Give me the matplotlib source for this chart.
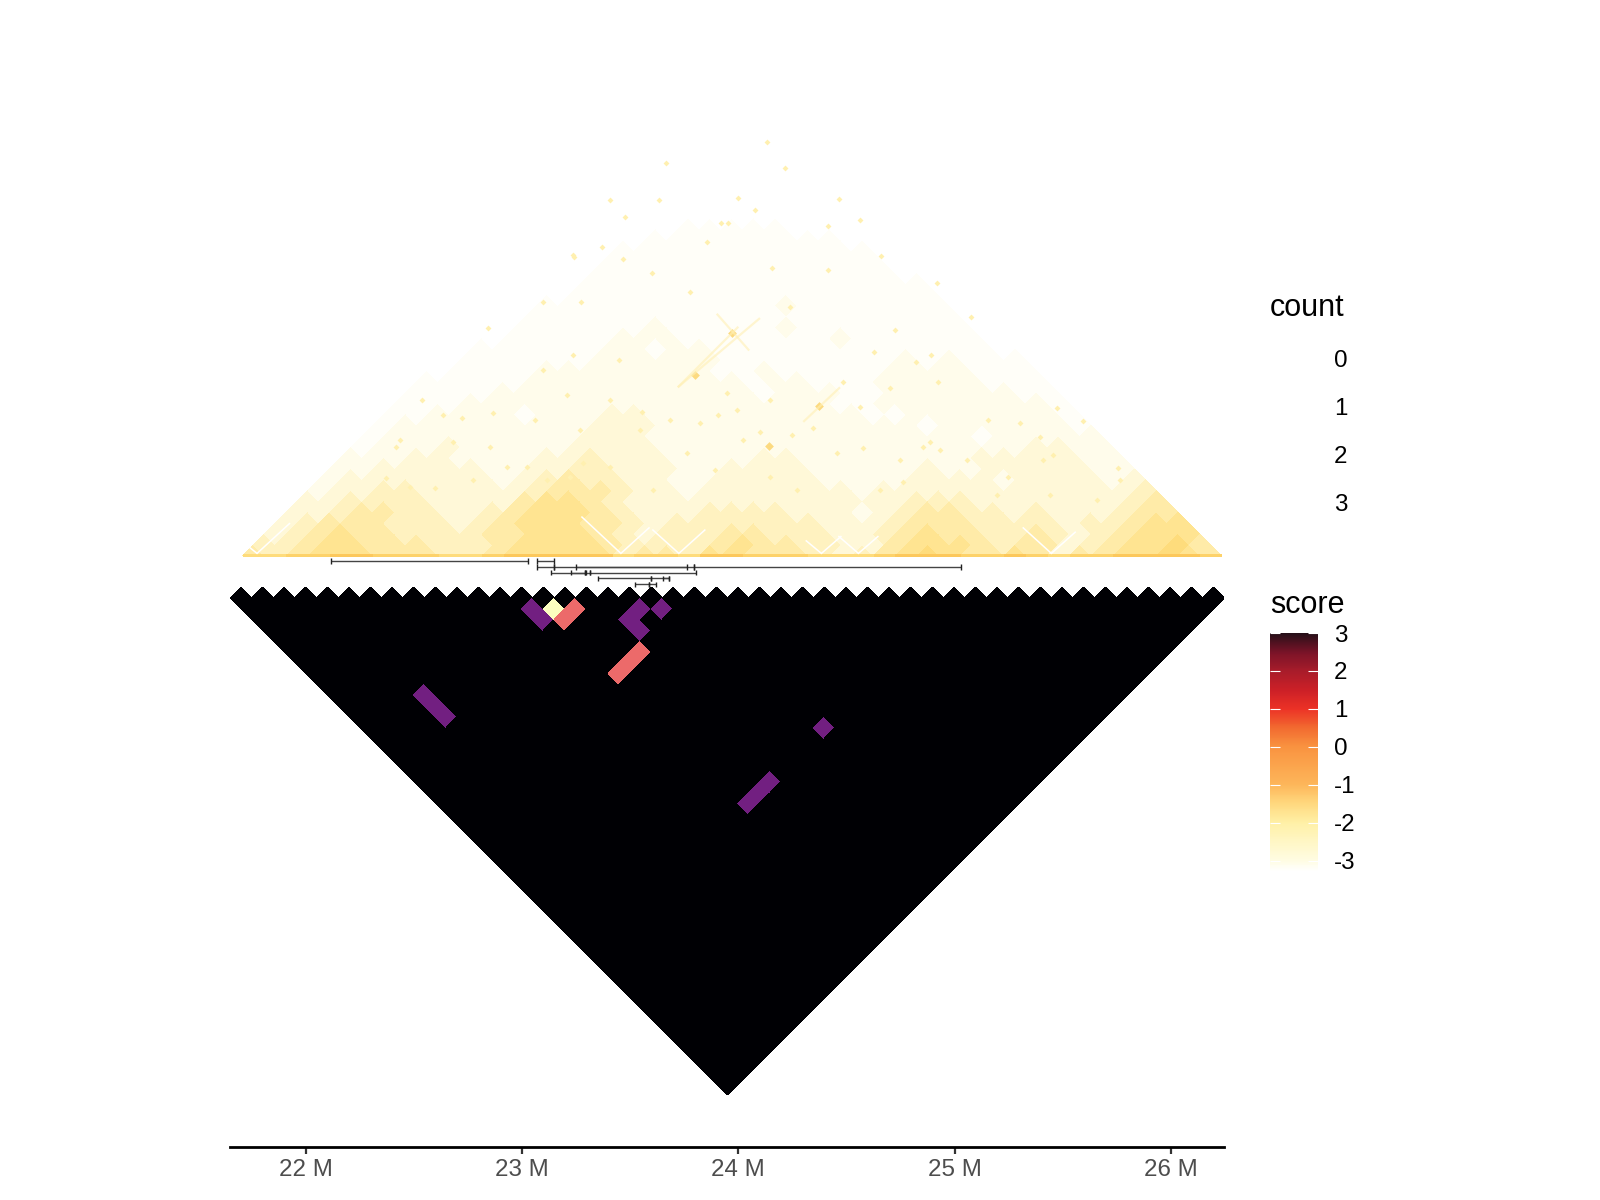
import numpy as np
import matplotlib
matplotlib.use('Agg')
import matplotlib.pyplot as plt
from matplotlib.colors import LinearSegmentedColormap, ListedColormap, Normalize
from matplotlib.cm import ScalarMappable
from matplotlib.patches import Rectangle

plt.rcParams['font.family'] = ['Liberation Sans', 'DejaVu Sans']

# count heatmap, estimated mean intensity (0-9) in 100 kb bins, one string per distance
count_rows = [
    "545666555445666664554665554345676556535566765",
    "44566555444566665444456554433566654553456675",
    "3456554444556665434445544433456554454345666",
    "345554443456665543444444433345554444344566",
    "33455443345666543334444333234554434333455",
    "3344443333566543333333333333444333333345",
    "233443333345554332333333323333333333334",
    "23333333234544332233333222233332333323",
    "2233333223344333223333222223223333322",
    "222332222334333222233222222223333322",
    "12223222223333222222222222222223322",
    "1222222222333222222222222222122222",
    "122222222233322222222222212222221",
    "11222212223322222222221122222221",
    "1112222222222222222211222222221",
    "111122222222222212221122222211",
    "11111222222222212211122222111",
    "0111122222222112111112222111",
    "011111122222211111111212111",
    "01111112212211111111111110",
    "0011111222111111121111110",
    "001111112111112111111110",
    "00111111111111111111110",
    "0011111111111211111110",
    "000111111111111111110",
    "00011111111111111110",
    "0001111111111111100",
    "000111111111111100",
    "00011111111111100",
    "0000111111111000",
    "000001111100000",
    "00000000000000",
    "0000000000000",
    "000000000000",
    "00000000000",
    "0000000000",
    "000000000",
    "00000000",
    "0000000",
    "000000",
    "00000",
    "0000",
    "000",
    "00",
    "0",
]
base_counts = [7, 7, 8, 8, 9, 9, 8, 8, 8, 7, 7, 8, 9, 9, 9, 9, 9, 7, 8, 8, 7, 9, 9, 8, 8,
               8, 7, 7, 7, 8, 9, 9, 9, 8, 8, 9, 8, 7, 8, 8, 9, 9, 9, 9, 8]

# sparse contacts higher up, position and half distance in Mb
speck_x = [23.242, 23.368, 23.466, 22.841, 23.096, 23.271, 23.667, 24.131, 24.215, 24.463,
           24.564, 24.413, 23.953, 23.997, 23.856, 24.157, 24.238, 24.820, 23.237, 23.096,
           23.447, 24.483, 24.723, 24.626, 23.600, 23.775, 24.413, 24.661, 24.917, 25.077,
           24.076, 23.635, 23.475, 23.405, 23.235, 24.890, 23.920,
           22.419, 22.481, 22.596, 22.373, 22.772, 22.865, 23.059, 23.207, 23.022, 22.536,
           22.721, 22.633, 22.435, 22.851, 23.221, 23.114, 22.929, 22.680, 23.822, 23.905,
           23.947, 23.553, 24.344, 24.247, 24.145, 23.891, 23.761, 23.405, 23.281, 23.683,
           24.021, 24.575, 24.746, 24.455, 24.700, 24.561, 24.145, 23.405, 23.267, 23.544,
           23.993, 24.099, 24.654, 24.270, 23.604, 24.922, 24.931, 24.885, 24.760, 25.056,
           25.153, 25.301, 25.472, 25.592, 25.454, 25.407, 25.754, 25.763, 25.195, 25.440,
           25.657, 25.245, 24.852, 25.393]
speck_y = [1.384, 1.430, 1.373, 1.054, 1.176, 1.176, 1.818, 1.915, 1.794, 1.650,
           1.553, 1.526, 1.539, 1.655, 1.453, 1.331, 1.153, 0.898, 0.929, 0.860,
           0.906, 0.806, 1.045, 0.945, 1.308, 1.222, 1.322, 1.387, 1.262, 1.106,
           1.600, 1.646, 1.569, 1.646, 1.393, 0.930, 1.540,
           0.505, 0.320, 0.314, 0.361, 0.351, 0.661, 0.629, 0.744, 0.411, 0.721,
           0.638, 0.652, 0.536, 0.504, 0.365, 0.351, 0.411, 0.527, 0.615, 0.652,
           0.754, 0.666, 0.592, 0.559, 0.365, 0.398, 0.476, 0.411, 0.430, 0.629,
           0.536, 0.499, 0.444, 0.476, 0.777, 0.689, 0.721, 0.721, 0.583, 0.583,
           0.675, 0.573, 0.305, 0.305, 0.305, 0.804, 0.490, 0.527, 0.342, 0.444,
           0.629, 0.615, 0.684, 0.624, 0.467, 0.444, 0.407, 0.351, 0.282, 0.282,
           0.259, 0.365, 0.504, 0.550]
hot_x = [23.972, 23.800, 24.375, 24.143]
hot_y = [1.031, 0.837, 0.693, 0.508]
stripe_x0 = [23.90, 24.10, 23.72, 24.30]
stripe_y0 = [1.12, 1.10, 0.78, 0.62]
stripe_x1 = [24.05, 23.72, 24.00, 24.47]
stripe_y1 = [0.95, 0.78, 1.06, 0.78]

# unmappable regions, white lines rising from the diagonal
gap_pos = [21.775, 23.457, 23.725, 24.384, 24.555, 25.447]
gap_left = [0.06, 0.18, 0.12, 0.07, 0.09, 0.13]
gap_right = [0.15, 0.13, 0.12, 0.09, 0.09, 0.11]

# score heatmap in 100 kb bins, everything else is class 0
purple_i = [13, 13, 18, 17, 17, 19, 4, 4, 4, 21, 16, 15, 14]
purple_j = [14, 15, 19, 19, 20, 20, 13, 14, 15, 33, 33, 33, 33]
salmon_i = [15, 14, 16, 15, 14]
salmon_j = [16, 16, 21, 21, 21]
yellow_i = [14]
yellow_j = [15]

# ranges track
range_rows = [0, 0, 1, 1, 1, 1, 2, 2, 2, 2, 3, 3, 3, 4, 4]
range_start = [22.119, 23.067, 23.067, 23.148, 23.251, 23.794, 23.133, 23.227, 23.298, 23.313,
               23.350, 23.598, 23.652, 23.524, 23.589]
range_end = [23.028, 23.148, 23.148, 23.763, 23.794, 25.028, 23.290, 23.290, 23.313, 23.803,
             23.598, 23.680, 23.680, 23.589, 23.618]

x_ticks = [22, 23, 24, 25, 26]
x_labels = ['22 M', '23 M', '24 M', '25 M', '26 M']
count_labels = ['0', '1', '2', '3']
count_hex = ['#FFFFFF', '#FFFEF8', '#FFFCEB', '#FFF8D8', '#FFF2C0', '#FFEBA8', '#FFE491',
             '#FEDC7C', '#FDD26A', '#FCC85C']
score_ticks = [3, 2, 1, 0, -1, -2, -3]
score_nodes = [-3.3, -3, -2, -1.5, -1, 0, 0.5, 1, 1.5, 2, 2.5, 3]
score_hex = ['#FFFFFF', '#FFFCE2', '#FFF0A6', '#FFD87E', '#FDB65A', '#F99340', '#F26A30',
             '#EC3226', '#CC2027', '#A81C2A', '#7A1328', '#260F18']

W, H = 1600, 1200
PX = 216.3  # pixels per Mb


def px_axes(x0, y0, x1, y1):
    return fig.add_axes([x0 / W, 1 - y1 / H, (x1 - x0) / W, (y1 - y0) / H])


def px_text(x, y, s, **kw):
    fig.text(x / W, 1 - y / H, s, va='center', **kw)


fig = plt.figure(figsize=(16, 12), dpi=100)
ax = px_axes(230, 60, 1224, 1146.5)
ax.set_xlim(21.65, 26.245)
ax.set_ylim(-590.5 / PX, 496 / PX)

# count triangle
n_count = len(count_rows)
edges = np.linspace(21.709, 26.235, n_count + 1)
count_grid = np.ma.masked_all((n_count, n_count))
for d, row in enumerate(count_rows):
    vals = [int(c) for c in row][:n_count - d]
    for i, v in enumerate(vals):
        count_grid[i, i + d] = v
ei, ej = np.meshgrid(edges, edges, indexing='ij')
count_cmap = LinearSegmentedColormap.from_list('count', count_hex)
mesh = ax.pcolormesh((ei + ej) / 2, (ej - ei) / 2, count_grid, cmap=count_cmap, vmin=0, vmax=9,
                     linewidth=0, antialiased=False, snap=False)
mesh.set_clip_path(Rectangle((21, 0), 6, 3, transform=ax.transData))

ax.pcolormesh(edges, [-1 / PX, 2.5 / PX], np.array([base_counts]), cmap=count_cmap, vmin=0, vmax=9)

for a, b, c, e in zip(stripe_x0, stripe_y0, stripe_x1, stripe_y1):
    ax.plot([a, c], [b, e], color='#FFF0B4', lw=1.6, alpha=0.6, solid_capstyle='butt')
ax.scatter(speck_x, speck_y, marker='D', s=9, color='#FFF0B0', linewidths=0)
ax.scatter(hot_x, hot_y, marker='D', s=20, color='#FCDA80', linewidths=0)

for g, l, r in zip(gap_pos, gap_left, gap_right):
    ax.plot([g - l, g, g + r], [l, 0.012, r], color='white', lw=1.1, solid_joinstyle='miter')

# ranges
row_y = [-(5 + 5.8 * r) / PX for r in range_rows]
ax.hlines(row_y, range_start, range_end, color='#444444', lw=1.0)
ax.vlines(range_start + range_end, [y - 2.7 / PX for y in row_y] * 2,
          [y + 2.7 / PX for y in row_y] * 2, color='#222222', lw=1.0)

# score triangle
n_score = 46
score_edges = 21.65 + 0.1 * np.arange(n_score + 1) * (994 / 46 / 21.63)
score_grid = np.ma.masked_all((n_score, n_score))
for i in range(n_score):
    for j in range(i, n_score):
        score_grid[i, j] = 0
score_grid[purple_i, purple_j] = 1
score_grid[salmon_i, salmon_j] = 2
score_grid[yellow_i, yellow_j] = 3
si, sj = np.meshgrid(score_edges, score_edges, indexing='ij')
score_cmap = ListedColormap(['#000004', '#721F81', '#EC6A6A', '#FCFDBF'])
ax.pcolormesh((si + sj) / 2, -42 / PX - (sj - si) / 2, score_grid, cmap=score_cmap, vmin=-0.5, vmax=3.5,
              linewidth=0, antialiased=False, snap=False)

for side in ['top', 'left', 'right']:
    ax.spines[side].set_visible(False)
ax.spines['bottom'].set_linewidth(2.0)
ax.set_yticks([])
ax.set_xticks(x_ticks)
ax.set_xticklabels(x_labels, fontsize=17.4, color='#4D4D4D')
ax.tick_params(axis='x', length=5, width=1.6, color='#333333', pad=4)

# legends
px_text(1270, 308, 'count', fontsize=22, color='black')
for y, s in zip([361, 409, 457, 505], count_labels):
    px_text(1334, y, s, fontsize=17.4, color='black')

px_text(1270, 605, 'score', fontsize=22, color='black')
cax = px_axes(1270, 633, 1318, 872)
norm_nodes = [(v - score_nodes[0]) / (score_nodes[-1] - score_nodes[0]) for v in score_nodes]
bar_cmap = LinearSegmentedColormap.from_list('score', list(zip(norm_nodes, score_hex)))
cb = fig.colorbar(ScalarMappable(Normalize(score_nodes[0], score_nodes[-1]), bar_cmap), cax=cax)
cb.outline.set_visible(False)
cb.set_ticks(score_ticks)
cb.set_ticklabels([str(t) for t in score_ticks])
cax.tick_params(axis='y', which='major', direction='in', left=True, right=True, length=7, width=0.8,
                color='white', labelsize=17.4, labelcolor='black', pad=11.5)
cax.minorticks_off()

fig.savefig('out.png', dpi=100)
